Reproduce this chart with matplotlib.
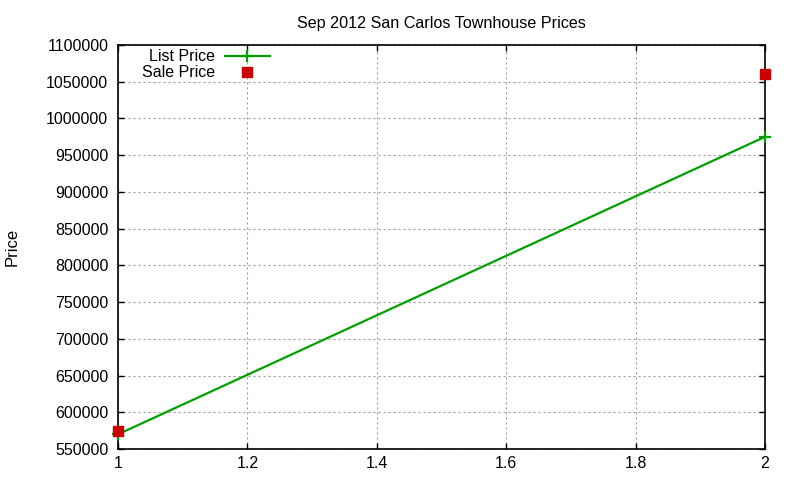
import matplotlib
matplotlib.use("Agg")
import matplotlib.pyplot as plt
from matplotlib.ticker import FuncFormatter, MultipleLocator

x_vals = [1, 2]
list_price = [570000, 975000]
sale_price = [574500, 1061000]
title = "Sep 2012 San Carlos Townhouse Prices"

plt.rcParams['font.family'] = ['Liberation Sans', 'DejaVu Sans']

fig = plt.figure(figsize=(8, 4.8), dpi=100)
ax = fig.add_axes([118/800, 31/480, (765-118)/800, (449-45)/480])

ax.plot(x_vals, list_price, color='#00a000', linewidth=1.6, marker='+',
        markersize=9, markeredgewidth=1.6, label='List Price', zorder=3,
        clip_on=False)
ax.plot(x_vals, sale_price, color='#cc0000', linestyle='none', marker='s',
        markersize=6.5, label='Sale Price', zorder=4, clip_on=False)

ax.set_xlim(1, 2)
ax.set_ylim(550000, 1100000)
ax.xaxis.set_major_locator(MultipleLocator(0.2))
ax.yaxis.set_major_locator(MultipleLocator(50000))
ax.xaxis.set_major_formatter(FuncFormatter(lambda v, p: '%g' % round(v, 6)))
ax.yaxis.set_major_formatter(FuncFormatter(lambda v, p: '%d' % round(v)))

ax.grid(True, color='#a0a0a0', linestyle=(0, (2, 2.5)), linewidth=0.8)
ax.tick_params(direction='in', length=4.5, width=1, top=True, right=True,
               labelsize=11.5, colors='black')
ax.tick_params(axis='y', pad=7)
ax.tick_params(axis='x', pad=5)
for s in ax.spines.values():
    s.set_linewidth(1.2)

ax.set_title(title, fontsize=11.6, pad=12.5)
ax.set_ylabel('Price', fontsize=12, labelpad=19)

leg = ax.legend(loc='upper left', bbox_to_anchor=(0.02, 1.017), frameon=False,
                markerfirst=False, fontsize=11.5, handlelength=2.8,
                labelspacing=0.05, borderpad=0.2, handletextpad=0.6)

fig.savefig('out.png', dpi=100)
